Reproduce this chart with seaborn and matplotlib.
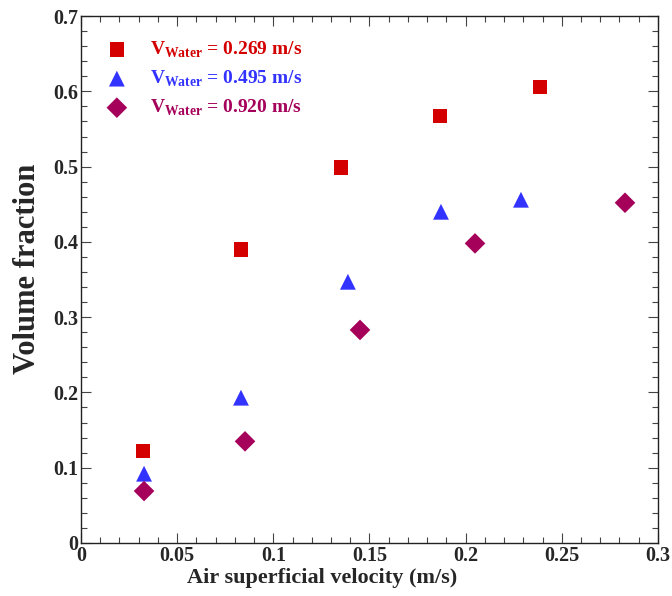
import pandas as pd
import seaborn as sns
import matplotlib.pyplot as plt
from matplotlib.ticker import MultipleLocator, FormatStrFormatter

# data
air_vel_269 = [0.0322, 0.0832, 0.1352, 0.1867, 0.2387]
frac_269 = [0.122, 0.390, 0.499, 0.567, 0.606]
air_vel_495 = [0.0328, 0.0832, 0.1388, 0.1872, 0.2288]
frac_495 = [0.092, 0.193, 0.347, 0.440, 0.456]
air_vel_920 = [0.0328, 0.0853, 0.1451, 0.2049, 0.2829]
frac_920 = [0.069, 0.135, 0.283, 0.398, 0.452]

series = ['0.269', '0.495', '0.920']
colors = ['#d40000', '#3333ff', '#a5005a']
markers = ['s', '^', 'D']
sizes = [110, 130, 110]

df = pd.concat([
    pd.DataFrame({'Air': air_vel_269, 'Frac': frac_269, 'V': series[0]}),
    pd.DataFrame({'Air': air_vel_495, 'Frac': frac_495, 'V': series[1]}),
    pd.DataFrame({'Air': air_vel_920, 'Frac': frac_920, 'V': series[2]}),
])

sns.set_style('ticks')
plt.rcParams['font.family'] = ['Liberation Serif', 'DejaVu Serif']
plt.rcParams['font.weight'] = 'bold'
plt.rcParams['mathtext.fontset'] = 'custom'
plt.rcParams['mathtext.rm'] = 'Liberation Serif:bold'
plt.rcParams['mathtext.bf'] = 'Liberation Serif:bold'

fig = plt.figure(figsize=(6.72, 5.96), dpi=100)
ax = fig.add_axes([0.1205, 0.089, 0.8585, 0.884])

handles = []
for i, v in enumerate(series):
    sub = df[df['V'] == v]
    sns.scatterplot(data=sub, x='Air', y='Frac', marker=markers[i], color=colors[i],
                    s=sizes[i], edgecolor='none', ax=ax)
    h = ax.scatter([], [], marker=markers[i], color=colors[i], s=sizes[i], edgecolor='none')
    handles.append(h)

ax.set_xlim(0, 0.3)
ax.set_ylim(0, 0.7)
ax.xaxis.set_major_locator(MultipleLocator(0.05))
ax.xaxis.set_minor_locator(MultipleLocator(0.01))
ax.yaxis.set_major_locator(MultipleLocator(0.1))
ax.yaxis.set_minor_locator(MultipleLocator(0.02))
ax.xaxis.set_major_formatter(FormatStrFormatter('%g'))
ax.yaxis.set_major_formatter(FormatStrFormatter('%g'))
ax.tick_params(which='both', direction='in', top=True, right=True, width=0.8, color='#444444')
ax.tick_params(which='major', length=7, labelsize=14.5, pad=2)
ax.tick_params(which='minor', length=4)
for s in ax.spines.values():
    s.set_linewidth(1.0)
    s.set_color('#222222')

# axis titles, placed a bit off-centre like the original
ax.set_xlabel('Air superficial velocity (m/s)', fontsize=16, fontweight='bold')
ax.set_ylabel('Volume fraction', fontsize=22, fontweight='bold')
ax.xaxis.set_label_coords(0.418, -0.047)
ax.yaxis.set_label_coords(-0.068, 0.52)

labels = [r'$\mathrm{V}_{\mathrm{Water}}$ = ' + v + ' m/s' for v in series]
leg = ax.legend(handles, labels, loc='upper left', frameon=False, fontsize=14,
                handletextpad=0.7, labelspacing=0.45, borderaxespad=0.0,
                bbox_to_anchor=(0.015, 0.97))
for t, c in zip(leg.get_texts(), colors):
    t.set_color(c)
    t.set_fontweight('bold')

fig.savefig('out.png', dpi=100)
